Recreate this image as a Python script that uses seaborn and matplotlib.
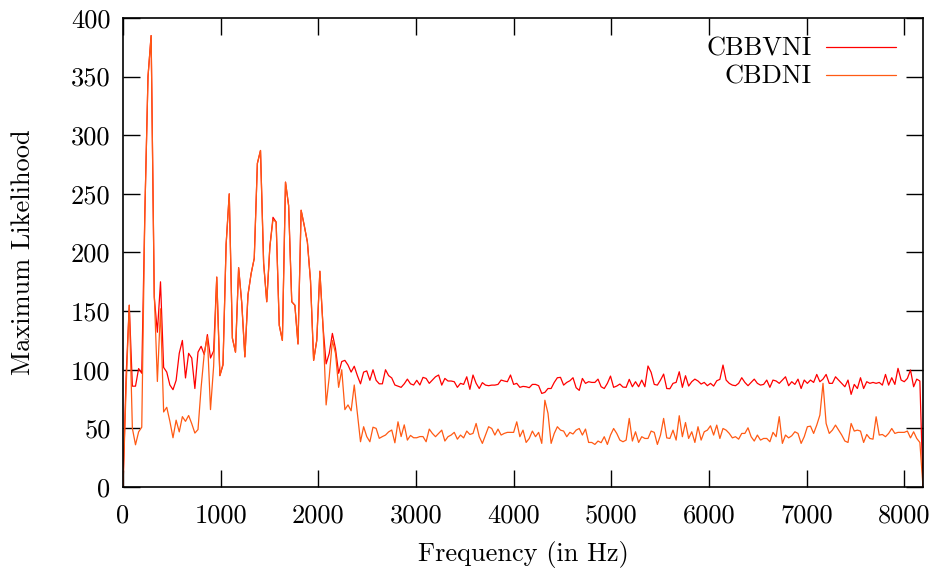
import numpy as np
import pandas as pd
import matplotlib
matplotlib.use("Agg")
import matplotlib.pyplot as plt
import seaborn as sns

# ---------------- data ----------------
FREQ_STEP = 32  # Hz between bins (0 .. 8192)

cbbvni = [
    0, 95, 155, 86, 86, 101, 97, 235, 350, 385,
    162, 132, 175, 102, 98, 87, 83, 91, 114, 125,
    93, 114, 110, 84, 115, 120, 113, 130, 110, 116,
    179, 95, 104, 207, 250, 127, 115, 187, 157, 111,
    164, 182, 195, 276, 287, 191, 158, 205, 230, 226,
    138, 125, 260, 240, 158, 155, 122, 236, 223, 209,
    176, 108, 125, 184, 137, 105, 114, 131, 118, 97,
    107, 108, 104, 98, 103, 95, 88, 98, 99, 91,
    100, 91, 88, 88, 100, 95, 93, 87, 86, 85,
    88, 92, 88, 87, 91, 87, 93.5,
    92.6, 88.4, 91.2, 94, 95.5, 86.9, 92.6, 90.4, 90.4, 89.8,
    85, 88.4, 87.5, 94, 83.3, 95.5, 88.4, 84, 89, 86.9,
    86.4, 86.9, 86.9, 87.5, 91.2, 90.4, 89.8, 95.5, 87.5, 88.4,
    85, 85.8, 85.5, 84.7, 87.5, 87.5, 86.4, 79.8, 80.7, 84,
    84, 89.2, 93.2, 93.5, 86.9, 89.2, 90.6, 93.2, 84.7, 82.4,
    92.6, 88.4, 89.8, 89.2, 89.2, 92, 85.5, 84, 88.4, 94.6,
    85, 86.1, 87.8, 85.2, 85, 91.8, 85.5, 89.8, 85.5, 91.2,
    85.5, 103.2, 97.8, 87.5, 86.9, 91.2, 96.3, 84, 83.8,
    88.4, 89.2, 98.3, 85, 94.9, 86.1, 89.8, 92, 90.4, 87.8,
    89.2, 86.4, 88.4, 86.1, 90.6, 91.8, 104, 91.2, 88.4, 86.9,
    86.4, 88.4, 93.2, 89.2, 86.4, 89.2, 92, 88.4, 86.9, 87.5,
    91.2, 85, 91.2, 90.4, 88.4, 91.2, 94, 86.4, 89.8, 87.5,
    92, 84, 91.2, 88.4, 91.2, 89.2, 96, 89.8, 92, 96,
    88.4, 88.4, 94, 91.2, 88.4, 85.5, 91.2, 79, 87.5, 84,
    93.2, 84, 89.8, 88.4, 89.2, 88.4, 89.2, 86.9, 96, 86.9,
    93.2, 87.5, 101.2, 91.2, 89.8, 92.6, 99.8, 85.5, 92, 90.4,
    0,
]

cbdni = [
    0, 85, 155, 50, 36, 47, 51, 235, 350, 385,
    165, 90, 152, 64, 68, 56, 42, 57, 47, 60,
    56, 61, 54, 46, 49, 85, 114, 128, 66, 103,
    179, 95, 105, 207, 250, 127, 115, 187, 157, 111,
    164, 182, 195, 276, 287, 191, 158, 205, 228, 226,
    138, 125, 260, 240, 158, 155, 122, 236, 223, 209,
    176, 108, 125, 184, 137, 70, 94, 125, 114, 85,
    100, 66, 70, 65, 87, 62.6, 38.6, 51.4, 43, 38.6,
    51, 50, 41.5, 43, 44.3, 47, 48.6, 37.7, 55.6, 43,
    53, 40, 44, 42, 42, 43, 43,
    38.6, 49.4, 45.7, 42.9, 45.7, 48.5, 39.2, 42.9, 44.3, 46.6,
    40.8, 44.3, 41.9, 47.7, 44.8, 45.7, 54.2, 42.9, 37.2, 44.3,
    51.4, 49.9, 44.3, 49.4, 44.3, 45.7, 46.6, 46.6, 46.6, 55.6,
    42.9, 48.5, 38, 41.4, 47.7, 42.9, 46.6, 37.2, 74, 62.8,
    37.2, 45.7, 51.4, 48.5, 47.7, 42.9, 46.6, 45.2, 48.5, 49.9,
    44.3, 49.4, 38, 38, 36.3, 39.2, 37.8, 42.9, 36.3, 44.3,
    49.9, 45.7, 40, 38.6, 40, 58.5, 39.2, 47.1, 38, 42.9,
    41.4, 41.4, 47.7, 46.6, 36.3, 44.3, 58.5, 41.9, 41.4,
    48.5, 40, 60.8, 42.9, 55, 41.4, 47.1, 38, 51.4, 40,
    47.1, 48.5, 52.2, 44.3, 52.8, 41.4, 49.9, 48.5, 45.7, 41.9,
    42.9, 40.8, 45.7, 45.7, 50.5, 42.9, 39.2, 44.3, 40, 41.4,
    41.4, 38.6, 46.6, 42.9, 60, 37.2, 44.3, 41.9, 43.7, 47.1,
    45.7, 37.2, 42.9, 51.4, 51.9, 45.7, 52.8, 61.3, 88.4, 54.2,
    45.7, 48.5, 52.8, 48.5, 44.3, 39.2, 38, 54.2, 47.7, 48.5,
    47.7, 38, 44.8, 41.4, 40.8, 59.9, 44.3, 44.8, 42.9, 45.7,
    49.9, 45.7, 46.6, 46.6, 46.6, 47.7, 41.9, 47.1, 41.4, 38,
    0,
]

series_names = ["CBBVNI", "CBDNI"]
series_colors = ["#ff0000", "#ff5a14"]
x_ticks = [0, 1000, 2000, 3000, 4000, 5000, 6000, 7000, 8000]
y_ticks = [0, 50, 100, 150, 200, 250, 300, 350, 400]

freq = np.arange(len(cbbvni)) * FREQ_STEP
df = pd.DataFrame({"freq": freq, "CBBVNI": cbbvni, "CBDNI": cbdni})

# ---------------- style ----------------
sns.set_style("ticks")
plt.rcParams["font.family"] = ["cmr10", "DejaVu Serif"]
plt.rcParams["mathtext.fontset"] = "cm"
plt.rcParams["axes.unicode_minus"] = False
plt.rcParams["axes.formatter.use_mathtext"] = True
plt.rcParams["text.color"] = "black"
plt.rcParams["axes.labelcolor"] = "black"

fig = plt.figure(figsize=(9.4, 5.75), dpi=100)
ax = fig.add_axes([123 / 940, 1 - 487 / 575, 800 / 940, 469 / 575])

for name, col in zip(series_names, series_colors):
    sns.lineplot(data=df, x="freq", y=name, ax=ax, color=col, lw=0.9,
                 label=name, estimator=None, sort=False)

ax.set_xlim(0, 8192)
ax.set_ylim(0, 400)
ax.set_xticks(x_ticks)
ax.set_yticks(y_ticks)
ax.set_xticklabels([str(t) for t in x_ticks])
ax.set_yticklabels([str(t) for t in y_ticks])
ax.tick_params(direction="in", length=12, width=1.0, top=True, right=True,
               labelsize=19, colors="black")
ax.tick_params(axis="x", pad=12)
ax.tick_params(axis="y", pad=9)
for sp in ax.spines.values():
    sp.set_visible(True)
    sp.set_linewidth(1.2)
    sp.set_color("black")

ax.set_xlabel("Frequency (in Hz)", fontsize=19, labelpad=10)
ax.set_ylabel("Maximum Likelihood", fontsize=19, labelpad=26)

leg = ax.legend(loc="upper right", bbox_to_anchor=(0.966, 0.959),
                markerfirst=False, frameon=False, fontsize=19,
                handlelength=2.65, handletextpad=0.55, labelspacing=0.16,
                borderpad=0, borderaxespad=0)
for line in leg.get_lines():
    line.set_linewidth(0.9)

fig.savefig("out.png", dpi=100)
